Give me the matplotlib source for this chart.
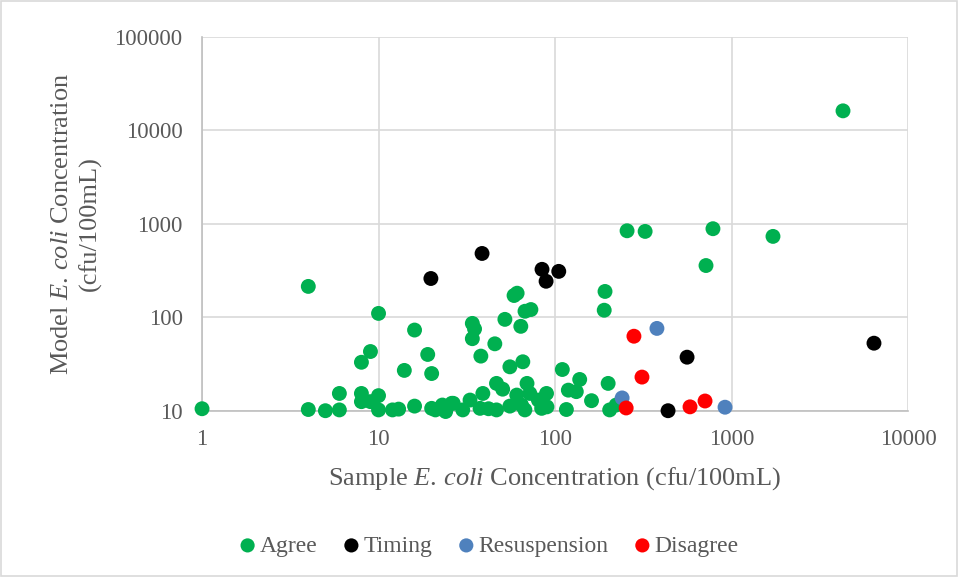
import matplotlib
matplotlib.use("Agg")
import matplotlib.pyplot as plt
from matplotlib.patches import Rectangle

plt.rcParams['font.family'] = ['Liberation Serif', 'DejaVu Serif']
plt.rcParams['mathtext.fontset'] = 'custom'
plt.rcParams['mathtext.rm'] = 'Liberation Serif'
plt.rcParams['mathtext.it'] = 'Liberation Serif:italic'

# Data
agree_x = [1, 4, 4, 5, 6, 6, 8, 8, 8, 9, 9, 10, 10, 10, 12, 13, 14, 16, 16, 19,
           20, 20, 21, 23, 24, 26, 26.5, 30, 33, 34, 35, 34, 37.6, 38, 39, 42,
           45.6, 46.6, 46.6, 50.5, 52, 55.5, 55.5, 58.6, 61, 60.7, 64, 64.6, 65.7,
           67.5, 67.6, 69.4, 72, 73, 80.5, 84, 89.5, 90, 110, 116, 119, 132, 138,
           161, 190, 192, 200, 204, 222, 256, 324, 717, 785, 1718, 4283]
agree_y = [10.5, 214, 10.3, 10, 10.2, 15.3, 33, 15.3, 12.5, 43, 12.5, 110, 14.5, 10.2,
           10.2, 10.4, 27, 73, 11.2, 40, 25, 10.6, 10.2, 11.5, 9.8, 12, 12, 10.2, 13,
           86, 75, 59, 10.6, 38.4, 15.3, 10.5, 52, 19.6, 10.2, 17, 95, 29.5, 11.2,
           171, 181, 14.7, 80, 11.5, 33.4, 10.2, 116, 19.6, 15.3, 121, 13, 10.6,
           15.3, 11, 27.6, 10.3, 16.6, 16, 21.6, 12.8, 119, 189, 19.6, 10.2, 11.5,
           843, 830, 358, 887, 734, 16200]

timing_x = [19.8, 38.6, 84.4, 89, 105, 437, 560, 6416]
timing_y = [260, 482, 326, 243, 310, 10, 37.4, 52.8]

resusp_x = [240, 378, 919]
resusp_y = [13.7, 76, 10.9]

disagree_x = [253, 280, 311, 582, 708]
disagree_y = [10.7, 62.7, 22.9, 11, 12.7]

series = [
    ("Agree", agree_x, agree_y, "#00B050"),
    ("Timing", timing_x, timing_y, "#000000"),
    ("Resuspension", resusp_x, resusp_y, "#4F81BD"),
    ("Disagree", disagree_x, disagree_y, "#FF0000"),
]

x_ticks = [1, 10, 100, 1000, 10000]
y_ticks = [10, 100, 1000, 10000, 100000]

fig = plt.figure(figsize=(9.58, 5.77), dpi=100)
ax = fig.add_axes([0.2109, 0.2882, 0.9478 - 0.2109, 0.9359 - 0.2882])

for name, xs, ys, c in series:
    ax.scatter(xs, ys, s=115, color=c, label=name, clip_on=False, zorder=3,
               edgecolors='none')

ax.set_xscale('log')
ax.set_yscale('log')
ax.set_xlim(1, 10000)
ax.set_ylim(10, 100000)
ax.set_xticks(x_ticks)
ax.set_xticklabels([str(t) for t in x_ticks])
ax.set_yticks(y_ticks)
ax.set_yticklabels([str(t) for t in y_ticks])
ax.minorticks_off()
ax.tick_params(axis='both', length=0, labelsize=16.5, colors='#595959')
ax.tick_params(axis='x', pad=13)
ax.tick_params(axis='y', pad=14)
ax.grid(True, color='#d9d9d9', linewidth=1.2, zorder=0)
ax.set_axisbelow(True)
for s in ['top', 'right']:
    ax.spines[s].set_visible(False)
ax.spines['left'].set_color('#bfbfbf')
ax.spines['bottom'].set_color('#bfbfbf')
ax.spines['left'].set_linewidth(1.2)
ax.spines['bottom'].set_linewidth(1.2)

ax.set_xlabel(r"Sample $E.\,coli$ Concentration (cfu/100mL)", fontsize=19,
              color='#595959', labelpad=11)
ax.set_ylabel("Model $E.\\,coli$ Concentration\n(cfu/100mL)", fontsize=19,
              color='#595959', labelpad=9, linespacing=1.3)

leg = fig.legend(loc='center', bbox_to_anchor=(0.509, 0.054), ncol=4, frameon=False,
                 fontsize=17, handletextpad=0.05, columnspacing=1.0,
                 handlelength=0.9, markerscale=0.95, labelcolor='#595959')

fig.patches.append(Rectangle((0.001, 0.001), 0.998, 0.998, transform=fig.transFigure,
                             fill=False, edgecolor='#d9d9d9', linewidth=1.2))

fig.savefig("out.png", dpi=100)
